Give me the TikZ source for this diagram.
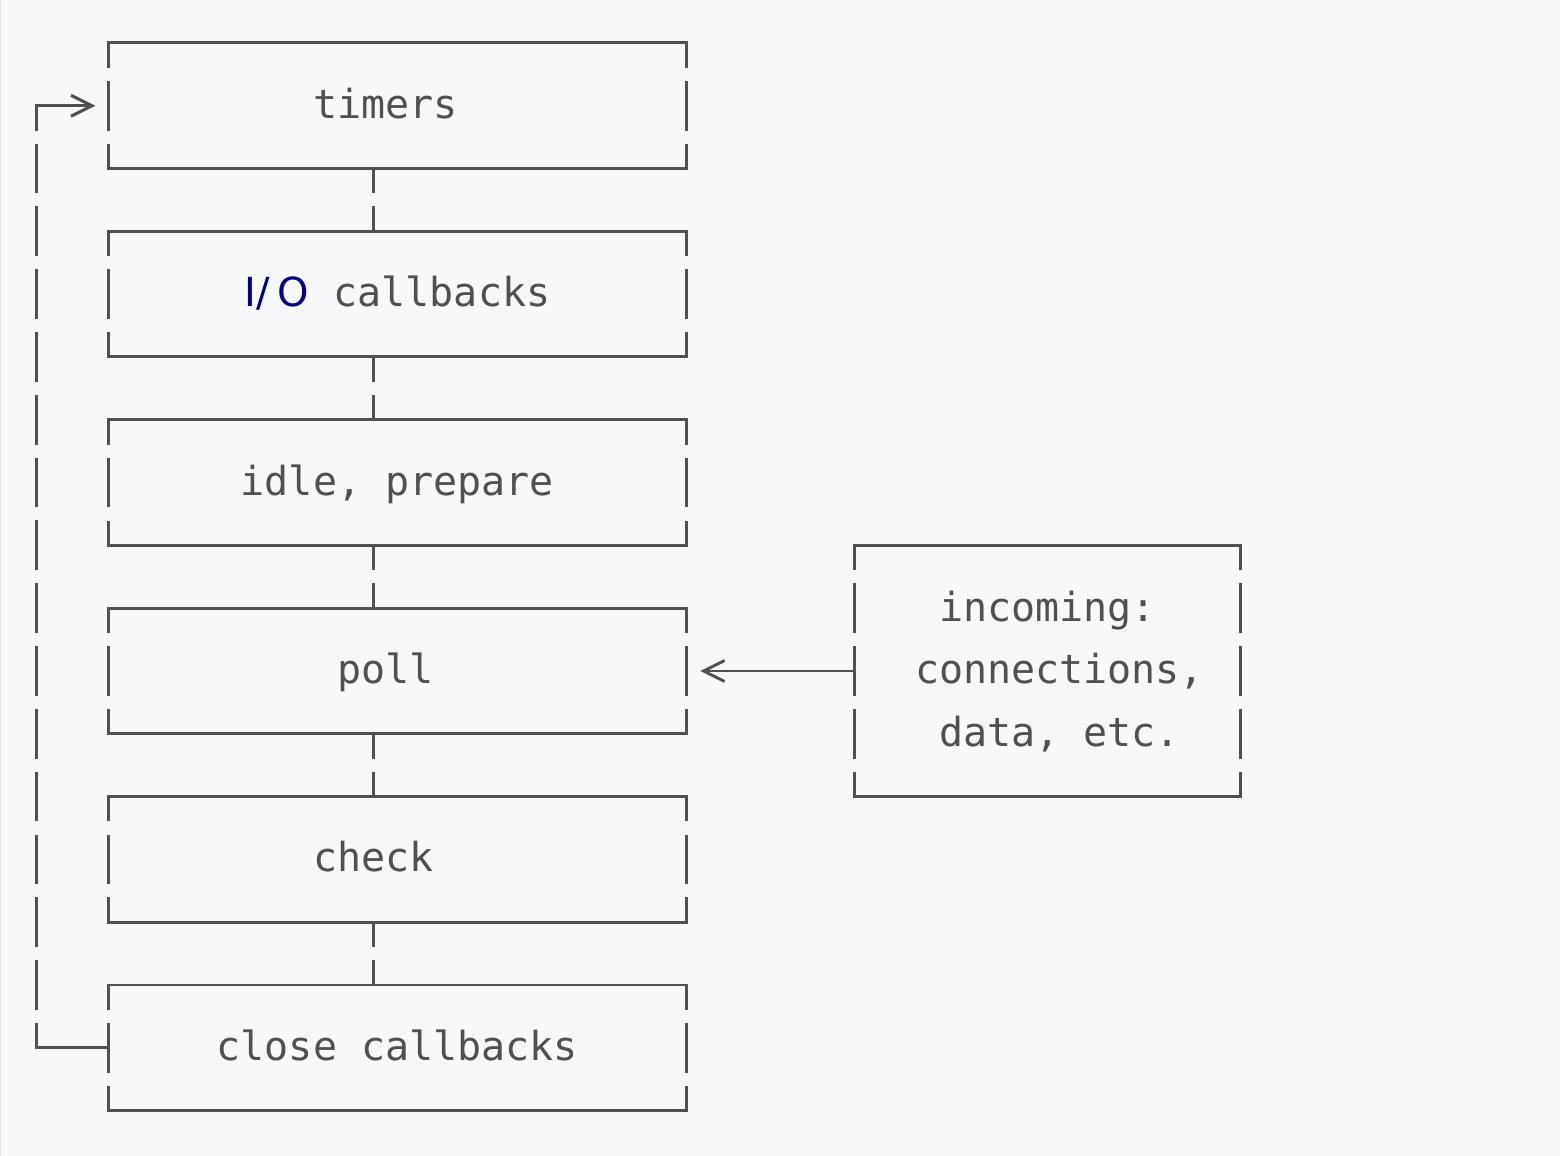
\documentclass[tikz,border=0pt]{standalone}
\usepackage{fontspec}
\setmonofont{DejaVu Sans Mono}
\newfontfamily\iofont{DejaVu Sans}
\usetikzlibrary{arrows.meta}

\definecolor{codebg}{HTML}{F6F8FA}
\definecolor{codeedge}{HTML}{E1E4E8}
\definecolor{inkgray}{HTML}{505050}
\definecolor{ionavy}{HTML}{000080}

\newcommand{\rowstrut}{\rule[-2.85pt]{0pt}{12.85pt}}
\newcommand{\pad}{\hphantom{x}}

\tikzset{
  ink/.style={draw=inkgray, line width=0.85pt, line cap=rect},
  gapped/.style={ink, dash pattern=on 0.468cm off 0.16cm, dash phase=0.234cm},
  barb/.style={-{Straight Barb[length=0.21cm, width=0.21cm]}},
  mono/.style={inner sep=0pt, outer sep=0pt, text=inkgray, font=\ttfamily\fontsize{11.38}{17.8}\selectfont},
  stage/.style={mono, minimum width=5.779cm, minimum height=1.256cm, text height=10pt, text depth=2.85pt},
  feed/.style={mono, minimum width=3.853cm, minimum height=2.512cm, align=left},
}

\begin{document}
\begin{tikzpicture}
  \useasboundingbox (0,0) rectangle (15.6,-11.56);
  \fill[codebg] (0,0) rectangle (15.6,-11.56);
  \draw[codeedge, line width=0.6pt] (0,0) -- (0,-11.56);

  % the six phases of the loop
  \node[stage] (timers) at (3.973,-1.058) {timers\pad};
  \node[stage] (iocb) at (3.973,-2.942) {{\iofont\color{ionavy}I/\kern2.4pt O}~callbacks};
  \node[stage] (idle) at (3.973,-4.826) {idle, prepare};
  \node[stage] (poll) at (3.973,-6.71) {poll\pad};
  \node[stage] (check) at (3.973,-8.594) {check\pad\pad};
  \node[stage] (close) at (3.973,-10.478) {close callbacks};
  \node[feed] (incoming) at (10.475,-6.71) {\rowstrut~~incoming:\\\rowstrut~connections,\\\rowstrut~~data, etc.};

  \foreach \b in {timers,iocb,idle,poll,check,close,incoming} {
    \draw[gapped] (\b.north west) -- (\b.south west);
    \draw[gapped] (\b.north east) -- (\b.south east);
    \draw[ink] (\b.north west) -- (\b.north east);
    \draw[ink] (\b.south west) -- (\b.south east);
  }

  \foreach \a/\b in {timers/iocb, iocb/idle, idle/poll, poll/check, check/close}
    \draw[gapped] ([xshift=-0.241cm]\a.south) -- ([xshift=-0.241cm]\b.north);

  % back round to the start
  \coordinate (loopbot) at (0.361,-10.478);
  \coordinate (looptop) at (0.361,-1.058);
  \draw[ink] (close.west) -- (loopbot);
  \draw[gapped] (loopbot) -- (looptop);
  \draw[ink, barb, shorten >=0.13cm] (looptop) -- (timers.west);

  \draw[ink, barb, shorten >=0.14cm] (incoming.west) -- (poll.east);
\end{tikzpicture}
\end{document}
